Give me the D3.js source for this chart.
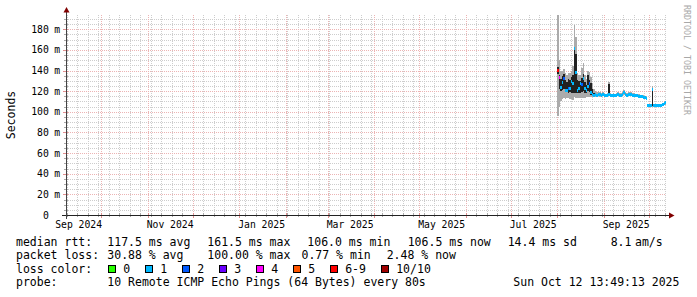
<!DOCTYPE html>
<html>
<head>
<meta charset="utf-8">
<script src="https://cdn.jsdelivr.net/npm/d3@7"></script>
<style>
  body { margin: 0; background: #fff; }
  text { font-family: "DejaVu Sans Mono", monospace; fill: #000; }
</style>
</head>
<body>
<div id="chart"></div>
<script>
// graph ends at the time stamp, covers the last 400 days
const endTime = new Date(2025, 9, 12, 13, 49, 13);
const spanDays = 400;
const firstDay = new Date(2025, 7, 1); // first day with data

// one value per day, from Aug 1 2025
const medianMs = [
  140, 133, 124, 128, 132, 121, 121, 123, 123, 129,
  127, 161.5, 138, 121, 123, 127, 126, 132, 123, 121,
  125, 127, 119, 117, 116, 116.5, 116, 117, 116.5, 116,
  117, 116, 115.5, 116, 117, 116, 115.5, 116, 115.5, 116,
  116.5, 116, 116, 116.5, 118.5, 116.5, 116, 116.5, 117, 116.5,
  116, 116, 115.5, 115.5, 115, 115, 114.5, 114, 113.5, 113,
  106.5, 106.5, 106, 122, 106, 106.5, 106, 106.5, 106, 106.5,
  107.5, 108.5, 109
];
const lossCount = [
  7, 4, 1, 1, 2, 1, 1, 2, 1, 1,
  1, 1, 1, 1, 1, 1, 2, 1, 1, 1,
  1, 2, 1, 1, 1, 1, 1, 1, 1, 1,
  1, 1, 1, 1, 1, 1, 1, 1, 1, 1,
  1, 1, 1, 1, 1, 1, 1, 1, 1, 1,
  1, 1, 1, 1, 1, 1, 1, 1, 1, 1,
  1, 1, 1, 1, 1, 1, 1, 1, 1, 1,
  1, 1, 1
];
const smokeLow = [
  96, 105, 110, 112, 113, 112, 113, 113, 112, 112,
  111, 114, 113, 113, 113, 113, 113, 113, 113, 114,
  114, 114, 114, 114, 114, 114, 114, 115, 114, 114,
  115, 114, 114, 114, 115, 114, 114, 114, 114, 114,
  115, 114, 114, 115, 116, 115, 114, 115, 115, 115,
  114, 114, 114, 114, 113, 113, 113, 112, 112, 111,
  105, 105, 105, 105, 105, 105, 105, 105, 105, 105,
  106, 107, 107
];
const smokeHigh = [
  200, 150, 140, 140, 141, 138, 136, 138, 138, 140,
  144, 184, 172, 138, 136, 136, 142, 147, 136, 132,
  140, 139, 134, 128, 122, 120, 119, 120, 119, 118,
  119, 118, 117, 118, 129, 118, 117, 118, 117, 118,
  119, 118, 118, 119, 121, 119, 118, 119, 119, 119,
  118, 118, 117, 117, 117, 116, 116, 116, 115, 115,
  108, 108, 108, 125, 108, 108, 108, 108, 108, 108,
  109, 110, 110
];
const coreLow = [
  137, 122, 120, 121, 122, 119, 119, 118, 119, 118,
  118, 118, 118, 118, 118, 118, 119, 120, 118, 118,
  120, 119, 116, 115, 115, 116, 115, 116, 116, 115,
  116, 115, 115, 115, 116, 115, 115, 115, 115, 115,
  116, 115, 115, 116, 117, 116, 115, 116, 116, 116,
  115, 115, 115, 115, 114, 114, 114, 113, 113, 112,
  106, 106, 105, 106, 105, 106, 105, 106, 105, 106,
  107, 108, 108
];
const coreHigh = [
  143, 136, 132, 135, 137, 131, 129, 132, 131, 134,
  136, 163, 156, 131, 130, 130, 133, 137, 129, 126,
  136, 131, 128, 122, 118, 117, 117, 118, 117, 117,
  118, 117, 116, 117, 127, 117, 116, 117, 116, 117,
  117, 117, 117, 117, 120, 117, 117, 117, 118, 117,
  117, 117, 116, 116, 116, 116, 115, 115, 114, 114,
  107, 107, 107, 123, 107, 107, 107, 107, 107, 107,
  108, 109, 110
];

const yMaxMs = 193.8;
const yTickValues = [0, 20, 40, 60, 80, 100, 120, 140, 160, 180];

const lossLabels = ["0", "1", "2", "3", "4", "5", "6-9", "10/10"];
const lossColors = ["#26ff00", "#00b8ff", "#0059ff", "#6a00ff", "#ff00ff", "#ff5500", "#ff0000", "#a00000"];

const rttStats = ["117.5 ms avg", "161.5 ms max", "106.0 ms min", "106.5 ms now", "14.4 ms sd", "8.1", "am/s"];
const lossStats = ["30.88 % avg", "100.00 % max", "0.77 % min", "2.48 % now"];
const probeText = "10 Remote ICMP Echo Pings (64 Bytes) every 80s";
const stampText = "Sun Oct 12 13:49:13 2025";

const width = 697, height = 297;
const plotLeft = 66, plotRight = 666, plotTop = 15, plotBottom = 215;

const svg = d3.select("#chart").append("svg")
  .attr("width", width)
  .attr("height", height);

svg.append("rect").attr("width", width).attr("height", height).attr("fill", "#fff");

const x = d3.scaleTime()
  .domain([d3.timeDay.offset(endTime, -spanDays), endTime])
  .range([plotLeft, plotRight]);
const y = d3.scaleLinear()
  .domain([0, yMaxMs])
  .range([plotBottom, plotTop]);

const px = v => Math.round(v) + 0.5;

// grid
const grid = svg.append("g").attr("fill", "none").attr("stroke-dasharray", "1,1");
const minorY = d3.range(5, yMaxMs, 5).filter(v => v % 20 !== 0);
const months = d3.timeMonth.range(x.domain()[0], x.domain()[1]);
const weeks = d3.timeWeek.range(x.domain()[0], x.domain()[1]);

grid.selectAll(".hmin").data(minorY).join("line")
  .attr("x1", plotLeft).attr("x2", plotRight)
  .attr("y1", d => px(y(d))).attr("y2", d => px(y(d)))
  .attr("stroke", "#cdcdcd");
grid.selectAll(".vmin").data(weeks).join("line")
  .attr("x1", d => px(x(d))).attr("x2", d => px(x(d)))
  .attr("y1", plotTop).attr("y2", plotBottom)
  .attr("stroke", "#cdcdcd");
grid.selectAll(".hmaj").data(yTickValues.filter(v => v > 0)).join("line")
  .attr("x1", plotLeft).attr("x2", plotRight)
  .attr("y1", d => px(y(d))).attr("y2", d => px(y(d)))
  .attr("stroke", "#ecb4b4");
grid.selectAll(".vmaj").data(months).join("line")
  .attr("x1", d => px(x(d))).attr("x2", d => px(x(d)))
  .attr("y1", plotTop).attr("y2", plotBottom)
  .attr("stroke", "#ecb4b4");

// smoke and median, one column per day
const days = medianMs.map((m, i) => d3.timeDay.offset(firstDay, i));
const plot = svg.append("g").attr("shape-rendering", "crispEdges");
const colX = d => x(d);
const colW = d => Math.min(x(d3.timeDay.offset(d, 1)), plotRight) - x(d);

plot.selectAll(".smoke").data(days).join("rect")
  .attr("x", colX).attr("width", colW)
  .attr("y", (d, i) => y(Math.min(smokeHigh[i], yMaxMs)))
  .attr("height", (d, i) => y(smokeLow[i]) - y(Math.min(smokeHigh[i], yMaxMs)))
  .attr("fill", "#ababab");
plot.selectAll(".core").data(days).join("rect")
  .attr("x", colX).attr("width", colW)
  .attr("y", (d, i) => y(Math.min(coreHigh[i], yMaxMs)))
  .attr("height", (d, i) => y(coreLow[i]) - y(Math.min(coreHigh[i], yMaxMs)))
  .attr("fill", "#222");

const lossIndex = n => n >= 10 ? 7 : n >= 6 ? 6 : n;
plot.selectAll(".median").data(days).join("rect")
  .attr("x", colX).attr("width", colW)
  .attr("y", (d, i) => y(medianMs[i]) - 1.5)
  .attr("height", 3)
  .attr("fill", (d, i) => lossColors[lossIndex(lossCount[i])]);

// axes
const axis = svg.append("g");
axis.selectAll(".xt").data(weeks).join("line")
  .attr("x1", d => px(x(d))).attr("x2", d => px(x(d)))
  .attr("y1", plotBottom - 2).attr("y2", plotBottom + 2)
  .attr("stroke", "#aaa");
axis.selectAll(".xmt").data(months).join("line")
  .attr("x1", d => px(x(d))).attr("x2", d => px(x(d)))
  .attr("y1", plotBottom - 2).attr("y2", plotBottom + 3)
  .attr("stroke", "#e09090");
axis.selectAll(".yt").data(minorY).join("line")
  .attr("x1", plotLeft - 2).attr("x2", plotLeft + 2)
  .attr("y1", d => px(y(d))).attr("y2", d => px(y(d)))
  .attr("stroke", "#aaa");
axis.selectAll(".ymt").data(yTickValues).join("line")
  .attr("x1", plotLeft - 3).attr("x2", plotLeft + 2)
  .attr("y1", d => px(y(d))).attr("y2", d => px(y(d)))
  .attr("stroke", "#e09090");

axis.append("line")
  .attr("x1", 62).attr("x2", 670).attr("y1", px(plotBottom)).attr("y2", px(plotBottom))
  .attr("stroke", "#222");
axis.append("line")
  .attr("x1", px(plotLeft)).attr("x2", px(plotLeft)).attr("y1", 219).attr("y2", 11)
  .attr("stroke", "#444");
axis.append("path")
  .attr("d", `M${px(plotLeft) - 3},12.5 L${px(plotLeft) + 3},12.5 L${px(plotLeft)},7 Z`)
  .attr("fill", "#800000");
axis.append("path")
  .attr("d", `M669,${px(plotBottom) - 3} L669,${px(plotBottom) + 3} L674.5,${px(plotBottom)} Z`)
  .attr("fill", "#800000");

// y labels
const ylab = svg.append("g").attr("font-size", "9.75px");
ylab.selectAll(".yn").data(yTickValues).join("text")
  .attr("x", 48.8).attr("y", d => y(d) + 3.5)
  .attr("text-anchor", "end")
  .text(d => d);
ylab.selectAll(".yu").data(yTickValues.filter(v => v > 0)).join("text")
  .attr("x", 54.3).attr("y", d => y(d) + 3.5)
  .text("m");

// x labels, centred half a month after the month start
const labelMonths = d3.timeMonth.every(2).range(d3.timeMonth.floor(x.domain()[0]), x.domain()[1]);
svg.append("g").attr("font-size", "9.75px")
  .selectAll("text").data(labelMonths).join("text")
  .attr("x", d => x(d3.timeDay.offset(d, 15)))
  .attr("y", 228)
  .attr("text-anchor", "middle")
  .text(d3.timeFormat("%b %Y"));

// axis title and watermark
svg.append("text")
  .attr("transform", "translate(14.5,115) rotate(-90)")
  .attr("text-anchor", "middle")
  .attr("font-size", "11.5px")
  .text("Seconds");
svg.append("text")
  .attr("transform", "translate(684,60) rotate(90)")
  .attr("text-anchor", "middle")
  .attr("font-size", "8.3px")
  .style("fill", "#a8a8a8")
  .text("RRDTOOL / TOBI OETIKER");

// legend
const legend = svg.append("g").attr("font-size", "11.5px");
const colX1 = [107.3, 207.3, 307.3, 407.7, 507.7, 610.7, 635];
legend.append("text").attr("x", 16).attr("y", 245.5).text("median rtt:");
legend.selectAll(".rtt").data(rttStats).join("text")
  .attr("x", (d, i) => colX1[i]).attr("y", 245.5).text(d => d);

const colX2 = [107.3, 207.3, 301.5, 386.7];
legend.append("text").attr("x", 16).attr("y", 259).text("packet loss:");
legend.selectAll(".pl").data(lossStats).join("text")
  .attr("x", (d, i) => colX2[i]).attr("y", 259).text(d => d);

legend.append("text").attr("x", 16).attr("y", 272.5).text("loss color:");
const swX = (d, i) => 108.5 + 37 * i + (i > 6 ? 14 : 0);
legend.selectAll(".sw").data(lossColors).join("rect")
  .attr("x", swX).attr("y", 265.5)
  .attr("width", 7).attr("height", 7)
  .attr("fill", d => d)
  .attr("stroke", "#000");
legend.selectAll(".swl").data(lossLabels).join("text")
  .attr("x", (d, i) => swX(d, i) + 14.7).attr("y", 272.5)
  .text(d => d);

legend.append("text").attr("x", 16).attr("y", 286).text("probe:");
legend.append("text").attr("x", 107.3).attr("y", 286).text(probeText);
legend.append("text").attr("x", 513.3).attr("y", 286).text(stampText);
</script>
</body>
</html>
